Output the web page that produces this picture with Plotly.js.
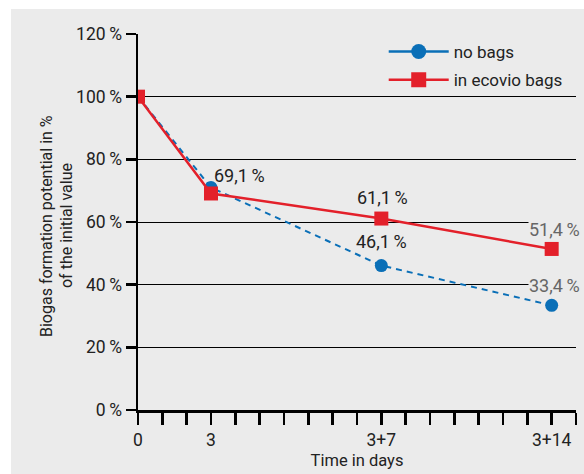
<!DOCTYPE html>
<html>
<head>
<meta charset="utf-8">
<script src="https://cdn.plot.ly/plotly-3.0.1.min.js"></script>
<style>
html,body{margin:0;padding:0;background:#ffffff;width:584px;height:474px;overflow:hidden;}
#chart{position:absolute;left:11px;top:9px;width:573px;height:465px;}
</style>
</head>
<body>
<div id="chart"></div>
<script>
// data
var days = [0, 3, 10, 17];
var noBags = [100, 71, 46.1, 33.4];
var ecovioBags = [100, 69.1, 61.1, 51.4];
var xTickVals = [0, 3, 10, 17];
var xTickText = ['0', '3', '3+7', '3+14'];
var yTickVals = [0, 20, 40, 60, 80, 100, 120];
var yTickText = yTickVals.map(function(v){ return v + '\u2009%'; });
var yTitleLines = ['Biogas formation potential in %', 'of the initial value'];
// labelled points
var noBagsLabelIdx = [2, 3];
var ecovioLabelIdx = [1, 2, 3];

var BLUE = '#0a6fb7', RED = '#e3202a', FONT = 'Roboto, "Liberation Sans", sans-serif';

function fmt(v){ return v.toFixed(1).replace('.', ',') + '\u2009%'; }

var traces = [
  {x: days, y: noBags, type: 'scatter', mode: 'lines+markers', showlegend: false,
   line: {color: BLUE, width: 2, dash: '6px,5px'}, marker: {color: BLUE, size: 13, symbol: 'circle'}},
  {x: days, y: ecovioBags, type: 'scatter', mode: 'lines+markers', showlegend: false,
   line: {color: RED, width: 2.5}, marker: {color: RED, size: 14, symbol: 'square'}},
  {x: [null], y: [null], type: 'scatter', mode: 'lines+markers', name: 'no bags', legendgroup: 'a',
   line: {color: BLUE, width: 2.5}, marker: {color: BLUE, size: 15, symbol: 'circle'}},
  {x: [null], y: [null], type: 'scatter', mode: 'lines+markers', name: 'in ecovio bags', legendgroup: 'b',
   line: {color: RED, width: 2.5}, marker: {color: RED, size: 15, symbol: 'square'}}
];

var annotations = [];
var lastIdx = days.length - 1;
function addLabels(series, idxs, shifts){
  idxs.forEach(function(i, k){
    var last = (i === lastIdx);
    annotations.push({
      x: days[i], y: series[i], xref: 'x', yref: 'y', text: fmt(series[i]),
      showarrow: false, xshift: shifts[k][0], yshift: shifts[k][1],
      font: {family: FONT, size: 18, color: last ? '#666666' : '#222222'},
      bgcolor: last ? '#ebebeb' : 'rgba(0,0,0,0)', borderpad: 0
    });
  });
}
addLabels(ecovioBags, ecovioLabelIdx, [[28, 18], [1, 21], [3, 19]]);
addLabels(noBags, noBagsLabelIdx, [[0, 24], [3, 20]]);

yTitleLines.forEach(function(t, k){
  annotations.push({
    x: 0, y: 0.5, xref: 'paper', yref: 'paper', text: t, textangle: -90,
    showarrow: false, xanchor: 'center', yanchor: 'middle',
    xshift: -92 + 20 * k, yshift: -4,
    font: {family: FONT, size: 16, color: '#222222'}
  });
});

var layout = {
  width: 573, height: 465,
  margin: {l: 127, r: 8, t: 25, b: 64, pad: 0},
  paper_bgcolor: '#ebebeb', plot_bgcolor: '#ebebeb',
  font: {family: FONT, size: 17, color: '#222222'},
  xaxis: {
    range: [0, 18], tickvals: xTickVals, ticktext: xTickText,
    showgrid: false, zeroline: false, showline: true, linecolor: '#000', linewidth: 3,
    ticks: 'outside', ticklen: 12, tickwidth: 2.5, tickcolor: '#000',
    minor: {dtick: 1, tick0: 0, ticks: 'outside', ticklen: 12, tickwidth: 2.5, tickcolor: '#000', showgrid: false},
    tickfont: {family: FONT, size: 17.5, color: '#222'},
    title: {text: 'Time in days', font: {family: FONT, size: 16.5, color: '#222'}, standoff: 6},
    fixedrange: true
  },
  yaxis: {
    range: [0, 120], tickvals: yTickVals, ticktext: yTickText,
    showgrid: true, gridcolor: '#000', gridwidth: 1, zeroline: false,
    showline: true, linecolor: '#000', linewidth: 2.5,
    ticks: 'outside', ticklen: 10, tickwidth: 2.5, tickcolor: '#000',
    tickfont: {family: FONT, size: 17.5, color: '#222'},
    fixedrange: true
  },
  legend: {x: 0.561, y: 1.0, xanchor: 'left', yanchor: 'top', bgcolor: 'rgba(0,0,0,0)',
    font: {family: FONT, size: 17, color: '#222'}, traceorder: 'grouped', tracegroupgap: 3, itemwidth: 60},
  annotations: annotations,
  showlegend: true
};

Plotly.newPlot('chart', traces, layout, {displayModeBar: false, staticPlot: true});
</script>
</body>
</html>
